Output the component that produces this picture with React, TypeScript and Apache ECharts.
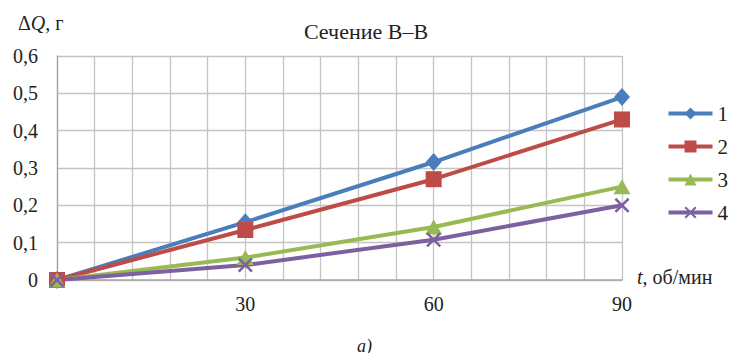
import React, { useEffect, useRef } from "react";
import * as echarts from "echarts";

const xValues = [0, 30, 60, 90];
const series1 = [0, 0.155, 0.316, 0.49];
const series2 = [0, 0.134, 0.27, 0.43];
const series3 = [0, 0.06, 0.142, 0.25];
const series4 = [0, 0.04, 0.108, 0.2];
const seriesNames = ["1", "2", "3", "4"];
const colors = ["#4A7EBB", "#BE4B48", "#98B954", "#7D60A0"];

const SERIF = "Liberation Serif";
const xMarker =
  "path://M0,1.2 L1.2,0 L5,3.8 L8.8,0 L10,1.2 L6.2,5 L10,8.8 L8.8,10 L5,6.2 L1.2,10 L0,8.8 L3.8,5 Z";

export default function App() {
  const ref = useRef<HTMLDivElement>(null);
  useEffect(() => {
    if (!ref.current) return;
    const chart = echarts.init(ref.current, null, { renderer: "svg" });
    const all = [series1, series2, series3, series4];
    const symbols = ["diamond", "rect", "triangle", xMarker];
    const sizes = [[16, 18], 16, [17, 15], 15];
    chart.setOption({
      animation: false,
      textStyle: { fontFamily: SERIF },
      grid: { left: 57, top: 56, right: 114, bottom: 81, containLabel: false },
      title: {
        text: "Сечение В–В",
        left: 361,
        top: 15,
        textAlign: "center",
        textStyle: { fontFamily: SERIF, fontSize: 22, fontWeight: "normal", color: "#222" },
      },
      legend: {
        orient: "vertical",
        right: 3,
        top: 98,
        itemWidth: 44,
        itemHeight: 15,
        itemGap: 12,
        lineStyle: { width: 4 },
        textStyle: { fontFamily: SERIF, fontSize: 21, color: "#222", overflow: "none" },
        data: seriesNames,
      },
      xAxis: {
        type: "value",
        min: 0,
        max: 90,
        interval: 30,
        axisLine: { show: true, lineStyle: { color: "#a6a6a6", width: 1.5 } },
        axisTick: { show: false },
        minorTick: { show: false, splitNumber: 5 },
        splitLine: { show: true, lineStyle: { color: "#c4c4c4", width: 1.3 } },
        minorSplitLine: { show: true, lineStyle: { color: "#c4c4c4", width: 1.3 } },
        axisLabel: {
          showMinLabel: false,
          margin: 14,
          fontFamily: SERIF,
          fontSize: 20,
          color: "#222",
        },
      },
      yAxis: {
        type: "value",
        min: 0,
        max: 0.6,
        interval: 0.1,
        axisLine: { show: true, lineStyle: { color: "#a6a6a6", width: 1.3 } },
        axisTick: { show: false },
        splitLine: { show: true, lineStyle: { color: "#c4c4c4", width: 1.3 } },
        axisLabel: {
          margin: 19,
          fontFamily: SERIF,
          fontSize: 20,
          color: "#222",
          formatter: (v: number) => (v === 0 ? "0" : v.toFixed(1).replace(".", ",")),
        },
      },
      graphic: [
        {
          type: "text",
          left: 18,
          top: 13,
          style: {
            text: "{n|Δ}{i|Q}{n|, г}",
            rich: {
              n: { fontFamily: SERIF, fontSize: 20, fill: "#222" },
              i: { fontFamily: SERIF, fontSize: 20, fontStyle: "italic", fill: "#222" },
            },
          },
        },
        {
          type: "text",
          left: 637,
          top: 267,
          style: {
            text: "{i|t}{n|, об/мин}",
            rich: {
              n: { fontFamily: SERIF, fontSize: 20, fill: "#222" },
              i: { fontFamily: SERIF, fontSize: 20, fontStyle: "italic", fill: "#222" },
            },
          },
        },
        {
          type: "text",
          left: 357,
          top: 337,
          style: {
            text: "а)",
            fontFamily: SERIF,
            fontSize: 18,
            fontStyle: "italic",
            fill: "#222",
          },
        },
      ],
      series: all.map((d, i) => ({
        name: seriesNames[i],
        type: "line",
        data: xValues.map((x, j) => [x, d[j]]),
        symbol: symbols[i],
        symbolSize: sizes[i],
        showAllSymbol: true,
        lineStyle: { color: colors[i], width: 4 },
        itemStyle: { color: colors[i], borderWidth: 0 },
        emphasis: { disabled: true },
      })),
    });
    return () => chart.dispose();
  }, []);
  return <div ref={ref} style={{ width: 736, height: 361, margin: -8 }} />;
}
